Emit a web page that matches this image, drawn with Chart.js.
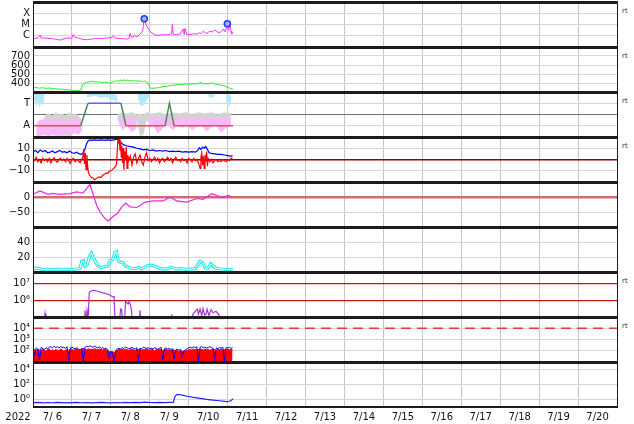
<!DOCTYPE html>
<html>
<head>
<meta charset="utf-8">
<script src="https://cdn.jsdelivr.net/npm/chart.js@4.4.1/dist/chart.umd.min.js"></script>
<style>
  body { margin: 0; background: #fff; }
  #wrap { position: relative; width: 634px; height: 424px; overflow: hidden; background: #fff; }
</style>
</head>
<body>
<div id="wrap"></div>
<script>
// time axis: hours since 2022-07-06 00:00, 15 days shown
const dayLabels = ['7/ 6', '7/ 7', '7/ 8', '7/ 9', '7/10', '7/11', '7/12', '7/13', '7/14', '7/15', '7/16', '7/17', '7/18', '7/19', '7/20'];

// X-ray flux [hour, W/m2]
const xray = [[0,5e-7],[3.3,7e-7],[4.3,1.15e-6],[5,6.3e-7],[6.3,6.3e-7],[10.5,5.8e-7],[13,5.2e-7],[16.6,4.1e-7],[20.8,6.3e-7],[24,6e-7],
  [24.8,1.25e-6],[26,7e-7],[27.9,6.3e-7],[30,5e-7],[33,4.4e-7],[36,5e-7],[39.3,5.8e-7],[42,5.5e-7],[45.4,6.3e-7],[48.7,7e-7],
  [49.5,1e-6],[50.5,6.5e-7],[52.6,5.8e-7],[55,5.5e-7],[57.8,5e-7],[59.2,6e-7],[59.8,1.6e-6],[60.9,7e-7],[62.9,1e-6],[64.1,8e-7],
  [66,1.4e-6],[67.6,2.8e-6],[68.6,3.3e-5],[70.1,7e-6],[72.1,2.5e-6],[75.2,1.15e-6],[78,1.1e-6],[80.3,1.25e-6],[82.5,1.2e-6],[84.5,1.4e-6],
  [85.4,1.5e-6],[85.9,1e-5],[86.5,1.2e-6],[88.5,1.3e-6],[90.6,1.4e-6],[92.7,4e-6],[93.2,1.3e-6],[93.7,4.5e-6],[94.8,1.25e-6],[97,1.3e-6],
  [99,1.5e-6],[100.9,1.4e-6],[102.5,1.8e-6],[103.5,1.5e-6],[105,2.5e-6],[106.7,1.6e-6],[108,2e-6],[109.1,2.5e-6],[110.5,2.2e-6],[112.2,3.3e-6],
  [114,2e-6],[115.3,2e-6],[116.3,2.6e-6],[117.3,4e-6],[118.4,2.2e-6],[119.8,1.15e-5],[120.5,3e-6],[121.5,1e-5],[122.1,2.5e-6],[122.5,1.4e-6],[123.3,2e-6]];
const flares = [[68.6,3.3e-5],[119.8,1.15e-5]];

// solar wind speed [hour, km/s]
const speed = [[0,345],[2,350],[4,342],[6,348],[8,340],[10,344],[12,338],[14,335],[16,332],[18,330],[20,326],[22,322],[24,320],[26,318],[28,316],
  [29.5,320],[30.3,365],[31,392],[32,400],[33,410],[34,405],[35,418],[36,412],[37,420],[38,410],[39,415],[40,408],[41,412],[42,404],[44,410],
  [46,402],[47.5,398],[49,408],[50,415],[51,422],[52,428],[53,420],[54,432],[55,426],[56,435],[57,428],[58,432],[59,424],[60,430],[61,422],
  [62,428],[63,420],[64,426],[65,418],[66,424],[67,420],[68,415],[69,422],[70,410],[71,400],[72,348],[73,340],[74,342],[76,345],[78,350],
  [80,358],[82,362],[84,370],[86,376],[88,380],[90,386],[92,384],[94,390],[96,386],[98,393],[100,388],[102,392],[103.5,410],[104.5,388],
  [106,394],[108,390],[110,396],[111,406],[112,388],[114,382],[116,375],[118,368],[120,352],[122,338],[123.3,330]];

// sector state: 0 = A, 1 = T  [hour, state]
const sector = [[0,0],[29.4,0],[33.9,1],[54.2,1],[57.3,0],[81.4,0],[84.1,1],[87,0],[123.3,0]];
// density clouds [hour, upper, lower]
const cyanCloud = [[0,1.5,0.95],[1,1.5,1.2],[2,1.5,0.82],[3,1.5,1.1],[4,1.5,0.8],[5,1.5,1.05],[6,1.5,0.9],[7,1.45,1.2],[8,null,null],
  [33,1.45,1.25],[36,1.5,1.3],[39,1.5,1.32],[42,1.45,1.22],[45,1.5,1.28],[48,1.45,1.18],[50,1.4,1.12],[52,1.35,1.08],[53,null,null],
  [64.5,1.5,1.25],[66,1.5,0.95],[67.5,1.5,0.88],[69,1.45,1.0],[70.5,1.5,1.2],[72,1.45,1.3],[73,null,null],
  [108,1.42,1.3],[110,1.38,1.26],[112,1.42,1.3],[113,null,null],[119,1.42,1.15],[120,1.38,0.8],[121,1.4,0.9],[122,1.3,1.05]];
const grayCloud = [[6,0.25,-0.15],[8,0.5,-0.4],[10,0.55,-0.45],[12,0.45,-0.4],[14,0.6,-0.45],[16,0.5,-0.35],[18,0.55,-0.45],[20,0.45,-0.4],
  [22,0.6,-0.45],[24,0.5,-0.4],[26,0.55,-0.3],[28,0.45,-0.4],[30,0.3,-0.2],[31,null,null],
  [52,0.5,0.2],[55,0.6,0.25],[58,0.55,0.3],[61,0.6,0.2],[64,0.5,0.25],[66,0.55,-0.45],[68,0.5,-0.4],[70,0.6,0.2],[74,0.55,0.3],[78,0.6,0.25],
  [82,0.5,0.2],[86,0.6,0.3],[90,0.55,0.25],[94,0.6,0.2],[98,0.5,0.3],[102,0.6,0.25],[106,0.55,0.2],[110,0.6,0.3],[114,0.5,0.25],[118,0.6,0.2],[122,0.55,0.3]];
const pinkCloud = [[2,0.1,-0.45],[4,0.25,-0.45],[7,0.3,-0.42],[10,0.2,-0.45],[13,0.35,-0.4],[16,0.25,-0.45],[19,0.3,-0.42],[22,0.18,-0.45],
  [25,0.35,-0.3],[28,0.3,-0.42],[30.5,0.2,-0.2],[31,null,null],
  [53,0.4,0.1],[55,0.35,-0.2],[58,0.42,0.0],[61,0.3,-0.3],[64,0.35,-0.1],[65,null,null],
  [71,0.35,-0.1],[74,0.4,0.0],[77,0.3,-0.35],[80,0.38,-0.1],[83,0.42,0.05],[86,0.3,-0.2],[89,0.36,0.0],[92,0.4,-0.1],[95,0.3,0.05],
  [98,0.35,-0.2],[101,0.4,-0.05],[104,0.3,0.0],[107,0.38,-0.25],[110,0.4,-0.05],[113,0.32,0.0],[116,0.4,-0.3],[119,0.35,-0.1],[122,0.38,0.0]];

// IMF [hour, nT]
const bt = [[0,7],[1.5,8],[3,6],[4.5,8.5],[6,7],[7.5,8],[9,6],[10.5,6.5],[12,7.5],[13.5,6],[15,7],[16.5,8],[18,6.5],[19.5,7],[21,6],[22.5,7.5],
  [24,6],[25.5,5.5],[27,6.5],[28.5,5],[30,4.5],[31,6],[32,9],[33,14],[34,16.5],[35,17.5],[36,17],[38,17.5],[40,17],[42,17.5],[44,17],[46,17.5],
  [48,17],[50,17.5],[52,18],[53,16.5],[54,15.5],[55,14],[56,13],[58,12],[60,11.5],[62,11],[64,10],[66,9.5],[68,8.5],[70,9],[72,8],[74,8.5],
  [76,7.5],[78,8],[80,7.5],[82,8],[84,7],[86,7.5],[88,7],[90,7.5],[92,6.5],[94,7],[96,6.5],[98,7],[100,6.5],[101.5,8],[102.5,10.5],[103.5,9],
  [104.5,11],[105.5,10],[106.5,11.5],[107.5,9],[108.5,6],[110,5.5],[112,5],[114,4.5],[116,4.5],[118,4],[120,3.5],[122,3],[123,3.5]];
const bz = [[0,1],[1,-1],[2,2],[3,-2],[4,0],[5,-3],[6,1],[7,-1],[8,0.5],[9,-2],[10,1],[11,-3],[12,0],[13,1.5],[14,-1],[15,-2.5],[16,0],[17,1],
  [18,-1],[19,0.5],[20,-2],[21,1],[22,-1],[23,-3.5],[24,0],[25,1],[26,-2],[27,0],[28,-1],[29,-3],[30,0],[30.7,2],[31.2,9],[31.7,-4],[32.2,6],
  [32.7,-9],[33.2,4],[33.7,-6],[34.2,-12],[35,-14],[36,-16],[37,-16.5],[38,-18],[39,-17],[40,-16],[41,-15.5],[42,-16],[43,-14],[44,-13],
  [45,-12],[46,-12.5],[47,-10.5],[48,-10],[49,-9],[50,-7.5],[51,-6],[51.5,-4],[52,10],[52.4,18.5],[52.8,14],[53.2,18.5],[53.6,8],[54,16],
  [54.4,2],[54.8,12],[55.2,-3],[55.6,10],[56,-9],[56.5,7],[57,0],[57.5,11],[58,-8],[58.5,4],[59,-1],[60,3],[61,-5],[62,2],[63,5],[64,-3],
  [65,1],[66,4],[67,-2],[68,-5],[69,2],[70,6],[71,-1],[72,1],[73,-2],[74,0],[75,2],[76,-1],[77,1],[78,-3],[79,0],[80,1],[81,-2],[82,0],
  [83,2],[84,-1],[85,1],[86,-3],[87,0],[88,2],[89,-1],[90,0],[91,-2],[92,1],[93,-1],[94,0],[95,-3],[96,1],[97,0],[98,-2],[99,1],[100,-1],
  [101,0],[102,-3],[103,-8],[103.5,2],[104,6],[104.5,-5],[105,3],[105.5,-8],[106,4],[106.5,-2],[107,7],[107.5,-6],[108,1],[109,-2],[110,0],
  [111,-3],[112,-1],[113,0],[114,-2],[115,-1],[116,-2],[117,0],[118,-1],[119,-2],[120,0],[121,-1],[122,1],[123,1.5]];

// Dst [hour, nT]
const dst = [[0,9],[4.3,20],[9.2,9],[12.3,12],[16.6,9],[22.8,11],[26.9,17],[29,15],[30.8,13],[33.1,28],[35.1,42],[36.9,11],[39.3,-28],
  [41.3,-50],[44.4,-72],[46.4,-80],[49.5,-64],[52,-55],[54.7,-33],[57.2,-20],[59.8,-33],[63.9,-35],[66,-28],[69,-17],[74.2,-13],[80.3,-13],
  [84.5,0],[88.6,-13],[94.8,-17],[100.9,-5],[104.8,-8],[110.2,11],[113.3,5],[116.3,-2],[120.4,5],[122.5,0]];

// activity index [hour, value]
const activity = [[0,4],[3,5],[6,3],[9,4],[12,3],[15,4],[18,3],[21,3.5],[24,3],[27,4],[29,5],[30,14],[31,15],[32,8],[33.5,10],[35,22],
  [36,25],[37,20],[38.5,14],[40,8],[42,6],[44,7],[46,8],[47.5,15],[49,16],[50.5,26],[51.5,27],[52.5,15],[54,13],[55.5,12],[57,8],[59,6],
  [61,5],[63,4.5],[65,6],[67,4],[70,8],[73,9],[76,7],[79,4.5],[82,3.5],[85,6.5],[88,4],[91,4.5],[94,3.5],[97,4],[100,4.5],[103,14],
  [104.5,12],[106,6],[108,5],[109.5,11],[111,8],[113,5],[116,4],[119,3.5],[122,3],[123.3,4]];

// >2 MeV electrons [hour, flux]
const electrons = [[0,5e4],[6.8,5e4],[7.4,1.6e5],[8,5e4],[31.7,5e4],[32,2.5e5],[32.7,5e4],[33.3,2.5e5],[34,8e4],[34.7,3e6],[35.8,3.6e6],
  [37.2,4e6],[40.1,3.5e6],[43.2,2.8e6],[46.2,2.3e6],[47.5,2e6],[49.3,1.6e6],[50,1.7e6],[50.6,5e4],[53.3,5e4],[54,3e5],[54.6,2.8e5],
  [55.2,5e4],[56.4,5e4],[57.1,9e5],[58,7e5],[58.6,6e5],[59.2,8e5],[60.1,5.5e5],[60.7,2.5e5],[61.3,5e4],[65.7,5e4],[66,2.5e5],[66.6,5e4],
  [85.1,5e4],[85.5,1.4e5],[86,5e4],[97.4,5e4],[98.6,1.5e5],[100.5,2.5e5],[101.4,3e5],[102,1.5e5],[103,3e5],[104,1.2e5],[104.8,3.2e5],
  [105.8,1.3e5],[106.7,1.5e5],[107.3,3e5],[108.5,1.2e5],[109.7,2.8e5],[111,1.8e5],[112.8,2.2e5],[114.7,1.3e5],[115.3,5e4],[123.3,5e4]];

// protons, hourly from 00h
const protonRed = [110,130,95,140,120,100,150,115,90,125,140,105, 120,95,135,110,100,145,120,90,115,130,105,125,
  140,110,130,150,120,100,135,160,145,120,150,130, 140,125,155,135,120,145,130,115,140,125,100,90,
  75,85,70,90,110,130,120,140,115,135,125,110, 130,145,120,105,135,125,140,115,130,120,145,125,
  110,135,120,100,130,115,140,125,105,120,135,110, 125,100,120,115,95,110,85,100,90,80,95,105,
  120,130,115,140,125,135,120,145,130,115,140,125, 135,110,130,145,120,105,135,125,140,115,130,120, 135,125,140,120];
const protonBlue = [150,40,180,130,15,200,160,120,190,140,210,230, 180,250,200,220,170,240,190,210,160,230,14,180,
  210,170,150,190,140,120,170,12,200,250,220,270, 240,200,260,210,180,230,160,190,150,170,120,20,
  90,60,13,100,150,170,140,190,160,210,180,150, 170,200,160,140,190,12,170,150,210,180,160,190,
  150,170,140,190,160,130,170,200,15,150,180,140, 160,130,150,18,120,140,110,130,25,100,120,150,
  180,210,170,230,190,220,12,200,240,180,210,170, 200,230,190,160,14,180,150,200,170,210,12,190, 170,210,160,200];
const protonAlert = [1e4, 1e4];

// >10 MeV protons [hour, pfu]
const hiProtons = [[0,0.38],[3,0.41],[6,0.36],[9,0.4],[12,0.37],[15,0.42],[18,0.38],[21,0.35],[24,0.39],[27,0.41],[30,0.37],[33,0.4],
  [36,0.36],[39,0.39],[42,0.42],[45,0.38],[48,0.36],[51,0.4],[54,0.37],[57,0.41],[60,0.38],[63,0.42],[66,0.39],[69,0.44],[72,0.4],
  [75,0.38],[78,0.42],[81,0.39],[84,0.41],[86.5,0.4],[87.5,2.5],[88.5,4.4],[90,4.6],[92,3.8],[95,2.7],[99,1.9],[103,1.4],[107,1.05],
  [111,0.83],[115,0.68],[118,0.56],[120,0.5],[121.5,0.62],[122.5,0.85],[123.3,1.25]];

const FONT = { family: 'DejaVu Sans', size: 10 };
const hourTicks = Array.from({ length: 31 }, (_, i) => i * 12);
const wrap = document.getElementById('wrap');

const pts = arr => arr.map(p => ({ x: p[0], y: p[1] }));
const band = (arr, k) => arr.map(p => ({ x: p[0], y: p[k] }));
const hourly = arr => arr.map((v, i) => ({ x: i, y: v }));

// frame, panel separators and side notes
const frame = {
  id: 'frame',
  afterDraw(chart, args, o) {
    const { ctx, chartArea: a } = chart;
    ctx.save();
    ctx.fillStyle = '#1c1c1c';
    ctx.fillRect(a.left, a.top, 1, a.bottom - a.top);
    ctx.fillRect(a.right, a.top, 1, a.bottom - a.top);
    ctx.fillRect(a.left, a.top - 1, a.right - a.left + 1, 3);
    if (o.last) ctx.fillRect(a.left, a.bottom - 1, a.right - a.left + 1, 2);
    if (o.rt) {
      ctx.fillStyle = '#333';
      ctx.font = '7px "DejaVu Sans"';
      ctx.textBaseline = 'middle';
      ctx.fillText('rt', a.right + 5, a.top + 9);
    }
    if (o.last) {
      ctx.fillStyle = '#111';
      ctx.font = '10px "DejaVu Sans"';
      ctx.textAlign = 'center';
      ctx.textBaseline = 'top';
      ctx.fillText('2022', 18, a.bottom + 5);
    }
    ctx.restore();
  }
};

function xAxis(last) {
  return {
    type: 'linear', min: 0, max: 360,
    afterBuildTicks: s => { s.ticks = hourTicks.map(v => ({ value: v })); },
    afterFit: s => { s.height = last ? 17 : 0; s.paddingLeft = 0; s.paddingRight = 0; },
    border: { display: false },
    grid: { drawTicks: false, color: c => (c.tick.value % 24 === 0 ? '#c6c6c6' : 'rgba(0,0,0,0)') },
    ticks: {
      display: last, autoSkip: false, maxRotation: 0, minRotation: 0, padding: 4, color: '#111', font: FONT,
      callback: v => (v % 24 === 12 ? dayLabels[(v - 12) / 24] : '')
    }
  };
}

function yAxis(type, min, max, ticks, labels, lines) {
  lines = lines || {};
  return {
    type, min, max,
    afterBuildTicks: s => { s.ticks = ticks.map(v => ({ value: v })); },
    afterFit: s => { s.width = 33; s.paddingTop = 0; s.paddingBottom = 0; },
    border: { display: false },
    grid: {
      drawTicks: false,
      color: c => (lines[c.tick.value] ? lines[c.tick.value][0] : '#d6d6d6'),
      lineWidth: c => (lines[c.tick.value] ? lines[c.tick.value][1] : 1)
    },
    ticks: {
      autoSkip: false, padding: 3, color: '#111', font: FONT,
      callback: v => (labels[v] === undefined ? '' : labels[v])
    }
  };
}

function panel(idx, datasets, y, rt) {
  const last = idx === 8;
  const h = last ? 424 - 45 * idx : 47;
  const canvas = document.createElement('canvas');
  canvas.width = 634;
  canvas.height = h;
  canvas.style.cssText = 'position:absolute;left:0;top:' + (45 * idx) + 'px;width:634px;height:' + h + 'px';
  wrap.appendChild(canvas);
  datasets.forEach(d => {
    d.pointRadius = d.pointRadius || 0;
    d.clip = 0;
    if (d.borderWidth === undefined) d.borderWidth = 1;
  });
  new Chart(canvas, {
    type: 'line',
    data: { datasets },
    options: {
      responsive: false, animation: false, events: [],
      layout: { autoPadding: false, padding: { top: 2, right: 17, bottom: 0, left: 0 } },
      elements: { line: { tension: 0 } },
      plugins: { legend: { display: false }, tooltip: { enabled: false }, frame: { rt, last } },
      scales: { x: xAxis(last), y }
    },
    plugins: [frame]
  });
}

// 1. X-ray
panel(0, [
  { data: pts(flares), showLine: false, pointRadius: 3, pointBorderWidth: 1.5, pointBorderColor: '#2233ff', pointBackgroundColor: '#a8b4ff' },
  { data: pts(xray), borderColor: '#ff2cff' }
], yAxis('logarithmic', 1e-7, 1e-3, [1e-7, 1e-6, 1e-5, 1e-4, 1e-3], { 1e-6: 'C', 1e-5: 'M', 1e-4: 'X' }), true);

// 2. solar wind speed
panel(1, [
  { data: pts(speed), borderColor: '#22ee22' }
], yAxis('linear', 300, 800, [300, 400, 500, 600, 700, 800], { 400: '400', 500: '500', 600: '600', 700: '700' }), true);

// 3. sector / clouds
panel(2, [
  { data: pts(sector), borderWidth: 1.5, borderColor: '#e84848',
    segment: { borderColor: c => {
      const a = c.p0.parsed.y, b = c.p1.parsed.y;
      if (a === 0 && b === 0) return '#f04a4a';
      if (a === 1 && b === 1) return '#6262f0';
      return '#4f8a55';
    } } },
  { data: band(pinkCloud, 1), fill: '+1', backgroundColor: '#f7baf7', borderWidth: 0 },
  { data: band(pinkCloud, 2), borderWidth: 0 },
  { data: band(grayCloud, 1), fill: '+1', backgroundColor: '#d3d3d3', borderWidth: 0 },
  { data: band(grayCloud, 2), borderWidth: 0 },
  { data: band(cyanCloud, 1), fill: '+1', backgroundColor: '#b3e8fb', borderWidth: 0 },
  { data: band(cyanCloud, 2), borderWidth: 0 }
], yAxis('linear', -0.5, 1.5, [-0.5, 0, 0.5, 1, 1.5], { 1: 'T', 0: 'A' }, { 0.5: ['#707070', 1] }), true);

// 4. IMF
panel(3, [
  { data: pts(bz), borderColor: '#ff0000', borderWidth: 1.2 },
  { data: pts(bt), borderColor: '#0000ff', borderWidth: 1.2 }
], yAxis('linear', -20, 20, [-20, -10, 0, 10, 20], { 10: '10', 0: '0', '-10': '\u221210' }, { 0: ['#9a0000', 1.5] }), true);

// 5. Dst
panel(4, [
  { data: pts(dst), borderColor: '#ee22ee', borderWidth: 1.2 }
], yAxis('linear', -100, 50, [-100, -50, 0, 50], { 0: '0', '-50': '\u221250' }, { 0: ['#cc6e6e', 2.5] }), false);

// 6. activity index
panel(5, [
  { data: pts(activity), borderColor: '#ffffff', borderWidth: 1 },
  { data: pts(activity), borderColor: '#22eaea', borderWidth: 3.2 }
], yAxis('linear', 0, 60, [0, 20, 40, 60], { 20: '20', 40: '40' }), false);

// 7. electrons
panel(6, [
  { data: pts(electrons), borderColor: '#a533dd', borderWidth: 1.2 }
], yAxis('logarithmic', 1e5, 5e7, [1e5, 1e6, 1e7], { 1e6: '10\u2076', 1e7: '10\u2077' },
  { 1e6: ['#cc1111', 1.2], 1e7: ['#cc1111', 1.2] }), true);

// 8. protons
panel(7, [
  { data: [{ x: 0, y: protonAlert[0] }, { x: 360, y: protonAlert[1] }], borderColor: '#e03c3c', borderWidth: 1.5, borderDash: [10, 6] },
  { data: hourly(protonBlue), borderColor: '#0000ff', borderWidth: 1 },
  { data: hourly(protonRed), borderColor: '#ff0000', backgroundColor: '#ff0000', fill: 'start', borderWidth: 1 }
], yAxis('logarithmic', 10, 1e5, [10, 100, 1000, 1e4, 1e5], { 100: '10\u00b2', 1000: '10\u00b3', 10000: '10\u2074' }), true);

// 9. high energy protons
panel(8, [
  { data: pts(hiProtons), borderColor: '#2222ff', borderWidth: 1.2 }
], yAxis('logarithmic', 0.1, 1e5, [0.1, 1, 100, 1e4, 1e5], { 1: '10\u2070', 100: '10\u00b2', 10000: '10\u2074' }), false);
</script>
</body>
</html>
